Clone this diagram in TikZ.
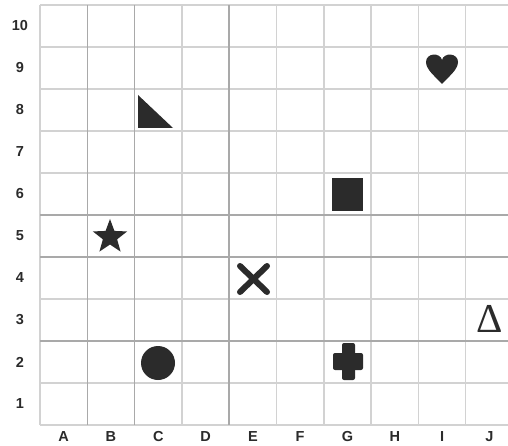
\documentclass[tikz,border=0pt]{standalone}
\usepackage{fontspec}
\setmainfont{Liberation Sans}
\newfontfamily\deltafont{Liberation Serif}
\usetikzlibrary{shapes.geometric}
\definecolor{ink}{HTML}{2B2B2B}
\definecolor{rule}{HTML}{D2D2D2}
\definecolor{darkrule}{HTML}{A9A9A9}

\begin{document}
\begin{tikzpicture}[x=1pt,y=-1pt,
    tick/.style={font=\bfseries\fontsize{14.5}{14.5}\selectfont,text=ink},
    gridline/.style={rule,line width=1.4pt},
    boldline/.style={darkrule,line width=1.6pt}]
  \fill[white] (0,0) rectangle (508,446);
  \useasboundingbox (0,0) rectangle (508,446);
  \begin{scope}
    \clip (0,0) rectangle (508,446);
    \foreach \i in {0,...,10}
      \draw[gridline] ({40+47.3*\i},5) -- ({40+47.3*\i},425);
    \foreach \j in {0,...,10}
      \draw[gridline] (40,{5+42*\j}) -- (513,{5+42*\j});
    % darker printed lines
    \foreach \i in {1,2,4}
      \draw[boldline] ({40+47.3*\i},5) -- ({40+47.3*\i},425);
    \foreach \j in {5,6,8}
      \draw[boldline] (40,{5+42*\j}) -- (513,{5+42*\j});
  \end{scope}
  % axis labels
  \foreach \c [count=\i from 0] in {A,B,C,D,E,F,G,H,I,J}
    \node[tick] (col\c) at ({63.65+47.3*\i},437) {\c};
  \foreach \r in {1,...,10}
    \node[tick] (row\r) at (20,{404-42*(\r-1)}) {\r};
  % symbols
  \fill[ink] (138,95) -- (138,128) -- (173,128) -- cycle;
  \fill[ink] (442,84) .. controls (436,77) and (426,70) .. (426,62)
    .. controls (426,53) and (440,52) .. (442,60)
    .. controls (444,52) and (458,53) .. (458,62)
    .. controls (458,70) and (448,77) .. (442,84);
  \fill[ink] (332,178) rectangle (363,211);
  \node[star,star points=5,star point ratio=2.4,fill=ink,minimum size=36pt,inner sep=0pt] (star) at (110,237) {};
  \draw[ink,line width=6pt,line cap=round] (240,266) -- (267,292) (240,292) -- (267,266);
  \node[text=ink,font=\deltafont\fontsize{41}{41}\selectfont,inner sep=0pt] (delta) at (490,319) {Δ};
  \fill[ink] (158,363) circle (17pt);
  \fill[ink,rounded corners=2pt] (342,343) rectangle (355,380);
  \fill[ink,rounded corners=2pt] (333,353) rectangle (363,370);
\end{tikzpicture}
\end{document}
